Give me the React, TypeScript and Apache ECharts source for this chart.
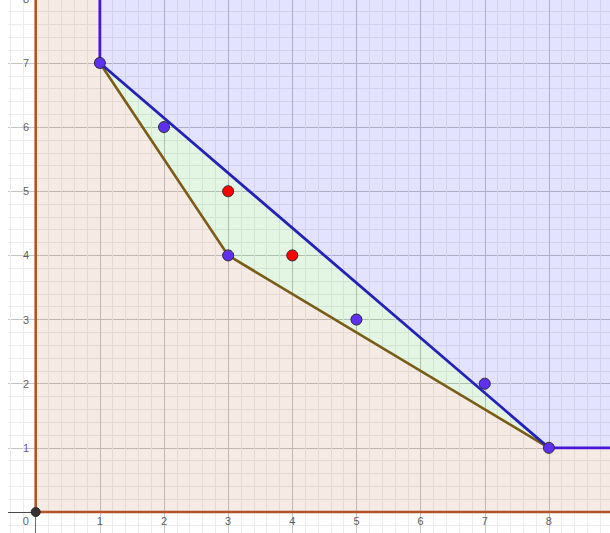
import React, { useEffect, useRef } from 'react';
import * as echarts from 'echarts';

// Axis extents (data units)
const xRange = [-1, 9];
const yRange = [-1, 8];
const xTickLabels = [0, 1, 2, 3, 4, 5, 6, 7, 8];
const yTickLabels = [1, 2, 3, 4, 5, 6, 7, 8];

// Points
const bluePoints = [[1, 7], [2, 6], [3, 4], [5, 3], [7, 2], [8, 1]];
const redPoints = [[3, 5], [4, 4]];
const originPoint = [[0, 0]];

// Lines
const upperHull = [[1, 7], [8, 1]];
const upperRayUp = [[1, 7], [1, 8]];
const upperRayRight = [[8, 1], [9, 1]];
const lowerHull = [[1, 7], [3, 4], [8, 1]];
const quadrantBoundary = [[0, 8], [0, 0], [9, 0]];

// Regions
const blueRegion = [[1, 8], [1, 7], [8, 1], [9, 1], [9, 8]];
const greenRegion = [[1, 7], [8, 1], [3, 4]];
const pinkRegion = [[0, 0], [9, 0], [9, 1], [8, 1], [3, 4], [1, 7], [1, 8], [0, 8]];

const polygonSeries = (pts: number[][], fill: string) => ({
  type: 'custom',
  coordinateSystem: 'cartesian2d',
  silent: true,
  z: 1,
  data: [pts[0]],
  renderItem: (_params: any, api: any) => ({
    type: 'polygon',
    shape: { points: pts.map((p) => api.coord(p)) },
    style: { fill, stroke: 'none' },
  }),
});

const lineSeries = (pts: number[][], color: string, width: number, z = 3) => ({
  type: 'line',
  data: pts,
  showSymbol: false,
  symbol: 'none',
  silent: true,
  z,
  lineStyle: { color, width, cap: 'round', join: 'round' },
});

const pointSeries = (pts: number[][], color: string, size: number) => ({
  type: 'scatter',
  data: pts,
  symbolSize: size,
  silent: true,
  z: 5,
  itemStyle: { color, borderColor: '#2a2a2a', borderWidth: 1, opacity: 1 },
});

const labelStyle = {
  fontSize: 11,
  color: '#333333',
  fontFamily: 'Liberation Sans, Arial, sans-serif',
};

const tickLabelSeries = (
  pts: number[][],
  position: string,
  distance: number,
  text: (p: number[]) => string,
  offsetFor?: (p: number[]) => number[]
) => ({
  type: 'scatter',
  silent: true,
  z: 6,
  symbolSize: 1,
  itemStyle: { color: 'rgba(0,0,0,0)', borderWidth: 0 },
  data: pts.map((p) => ({
    value: p,
    label: offsetFor ? { offset: offsetFor(p) } : undefined,
  })),
  label: {
    show: true,
    position,
    distance,
    ...labelStyle,
    formatter: (prm: any) => text(prm.value),
  },
});

export default function App() {
  const ref = useRef<HTMLDivElement>(null);

  useEffect(() => {
    if (!ref.current) return;
    const chart = echarts.init(ref.current, undefined, { renderer: 'svg' });
    const unit = 64.15;
    const x0 = 35.7;
    const y0 = 512;
    const W = 610;
    const H = 533;
    const left = x0 + xRange[0] * unit;
    const right = W - (x0 + xRange[1] * unit);
    const top = y0 - yRange[1] * unit;
    const bottom = H - (y0 - yRange[0] * unit);

    const axisCommon = {
      type: 'value',
      interval: 1,
      axisTick: { show: false },
      axisLabel: { show: false },
      minorTick: { show: false, splitNumber: 5 },
      splitLine: { show: true, lineStyle: { color: '#c4c4c4', width: 1 } },
      minorSplitLine: { show: true, lineStyle: { color: '#ececec', width: 1 } },
    };

    chart.setOption({
      animation: false,
      backgroundColor: '#ffffff',
      grid: { left, right, top, bottom, containLabel: false, outerBoundsMode: 'none' },
      xAxis: {
        ...axisCommon,
        min: xRange[0],
        max: xRange[1],
        axisLine: { show: true, onZero: true, lineStyle: { color: '#4a4a4a', width: 1 } },
      },
      yAxis: {
        ...axisCommon,
        min: yRange[0],
        max: yRange[1],
        axisLine: { show: true, onZero: true, lineStyle: { color: '#6a6a6a', width: 1 } },
      },
      graphic: [
        {
          type: 'rect',
          z: 10,
          silent: true,
          shape: { x: 0, y: 0, width: 8, height: H },
          style: { fill: '#ffffff' },
        },
      ],
      series: [
        polygonSeries(pinkRegion, 'rgba(181,82,42,0.12)'),
        polygonSeries(greenRegion, 'rgba(0,160,0,0.11)'),
        polygonSeries(blueRegion, 'rgba(0,0,255,0.11)'),
        lineSeries(quadrantBoundary, '#b4532a', 2.6),
        lineSeries(lowerHull, '#7a5c14', 2.6),
        lineSeries(upperHull, '#2222b8', 2.8),
        lineSeries(upperRayUp, '#4b16dc', 2.8),
        lineSeries(upperRayRight, '#4b16dc', 2.8),
        pointSeries(bluePoints, '#6030f0', 11),
        pointSeries(redPoints, '#ff0000', 11),
        pointSeries(originPoint, '#333333', 9),
        tickLabelSeries(
          xTickLabels.map((v) => [v, 0]),
          'bottom',
          3,
          (p) => String(p[0]),
          (p) => (p[0] === 0 ? [-10, 0] : [0, 0])
        ),
        tickLabelSeries(
          yTickLabels.map((v) => [0, v]),
          'left',
          6,
          (p) => String(p[1])
        ),
      ],
    });

    return () => chart.dispose();
  }, []);

  return (
    <div
      ref={ref}
      style={{ position: 'absolute', left: 0, top: 0, width: 610, height: 533 }}
    />
  );
}
